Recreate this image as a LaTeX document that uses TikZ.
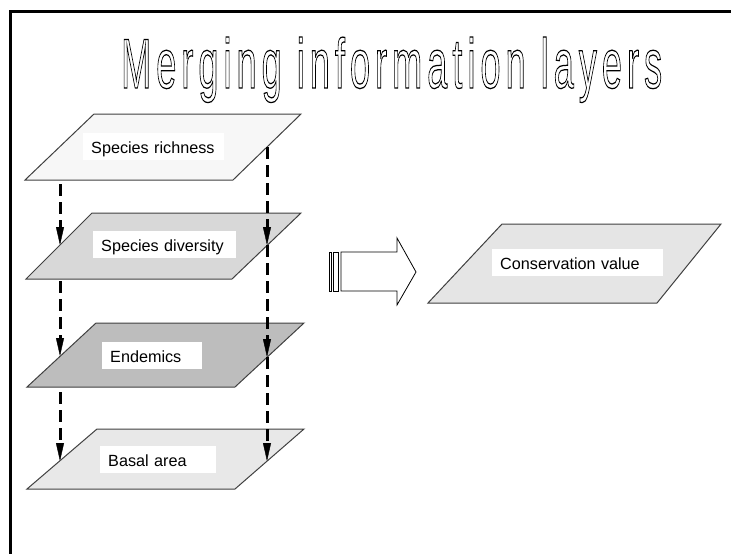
\documentclass[tikz,border=0pt]{standalone}
\usepackage{fontspec}
\setmainfont{Liberation Sans}
\newfontfamily\titlefont[LetterSpace=14]{Liberation Sans}
\usetikzlibrary{arrows.meta,calc}
\definecolor{layerA}{HTML}{F7F7F7}
\definecolor{layerB}{HTML}{D8D8D8}
\definecolor{layerC}{HTML}{BDBDBD}
\definecolor{layerD}{HTML}{E8E8E8}
\definecolor{layerE}{HTML}{E5E5E5}
\definecolor{edge}{HTML}{404040}
\begin{document}
\begin{tikzpicture}[x=1pt,y=-1pt,
  layer/.style={draw=edge, line width=1pt, line join=miter},
  lbl/.style={fill=white, anchor=north west, inner xsep=8pt, inner ysep=0pt,
    text height=20pt, text depth=7pt, align=left,
    font=\fontsize{16.2}{19}\selectfont},
  dasharrow/.style={line width=3pt, dash pattern=on 12pt off 6pt,
    -{Triangle[length=18pt,width=8pt,line width=0.4pt]}},
  bigarrow/.style={draw=black, line width=0.8pt, fill=white, line join=miter}]
\useasboundingbox (0,0) rectangle (731,554);
% frame
\draw[line width=2.7pt] (10.3,554) -- (10.3,11.3) -- (731,11.3);
% title
\node[anchor=base west, inner sep=0pt] (title) at (121,88)
  {\color{black}\resizebox{541pt}{51pt}{\titlefont\fontsize{68}{70}\selectfont\special{pdf:literal direct 1 Tr 1.2 w}Merging information layers\special{pdf:literal direct 0 Tr}}};
% arrow end points
\coordinate (la1) at (60,148);
\coordinate (la2) at (60,245);
\coordinate (la3) at (60,356);
\coordinate (la4) at (60,461);
\coordinate (ra1) at (267,147);
\coordinate (ra2) at (267,245);
\coordinate (ra3) at (267,357);
\coordinate (ra4) at (267,461);
% left dashed arrows (behind layers)
\draw[dasharrow] (la1) -- (la2);
\draw[dasharrow] (la2) -- (la3);
\draw[dasharrow] (la3) -- (la4);
% layers
\draw[layer, fill=layerA] (94,114) -- (301,114) -- (233,180) -- (25,180) -- cycle;
\draw[layer, fill=layerB] (92,213) -- (301,213) -- (232,279) -- (26,279) -- cycle;
\draw[layer, fill=layerC] (96,323) -- (304,323) -- (235,387) -- (27,387) -- cycle;
\draw[layer, fill=layerD] (97,429) -- (304,429) -- (235,489) -- (27,489) -- cycle;
\draw[layer, fill=layerE] (502,224) -- (721,224) -- (657,303) -- (428,303) -- cycle;
% labels
\node[lbl, text width=125pt] (rich) at (83,133) {Species richness};
\node[lbl, text width=127pt] (div) at (93,231) {Species diversity};
\node[lbl, text width=84pt] (end) at (102,342) {Endemics};
\node[lbl, text width=100pt] (bas) at (100,446) {Basal area};
\node[lbl, text width=155pt] (cons) at (492,249) {Conservation value};
% right dashed arrows (over layers)
\draw[dasharrow] (ra1) -- (ra2);
\draw[dasharrow] (ra2) -- (ra3);
\draw[dasharrow] (ra3) -- (ra4);
% striped block arrow
\draw[bigarrow] (329,252) rectangle (331.5,291);
\draw[bigarrow] (333.5,252) rectangle (338,291);
\draw[bigarrow] (341,252) -- (397,252) -- (397,238) -- (416,272) -- (397,305) -- (397,291) -- (341,291) -- cycle;
\end{tikzpicture}
\end{document}
